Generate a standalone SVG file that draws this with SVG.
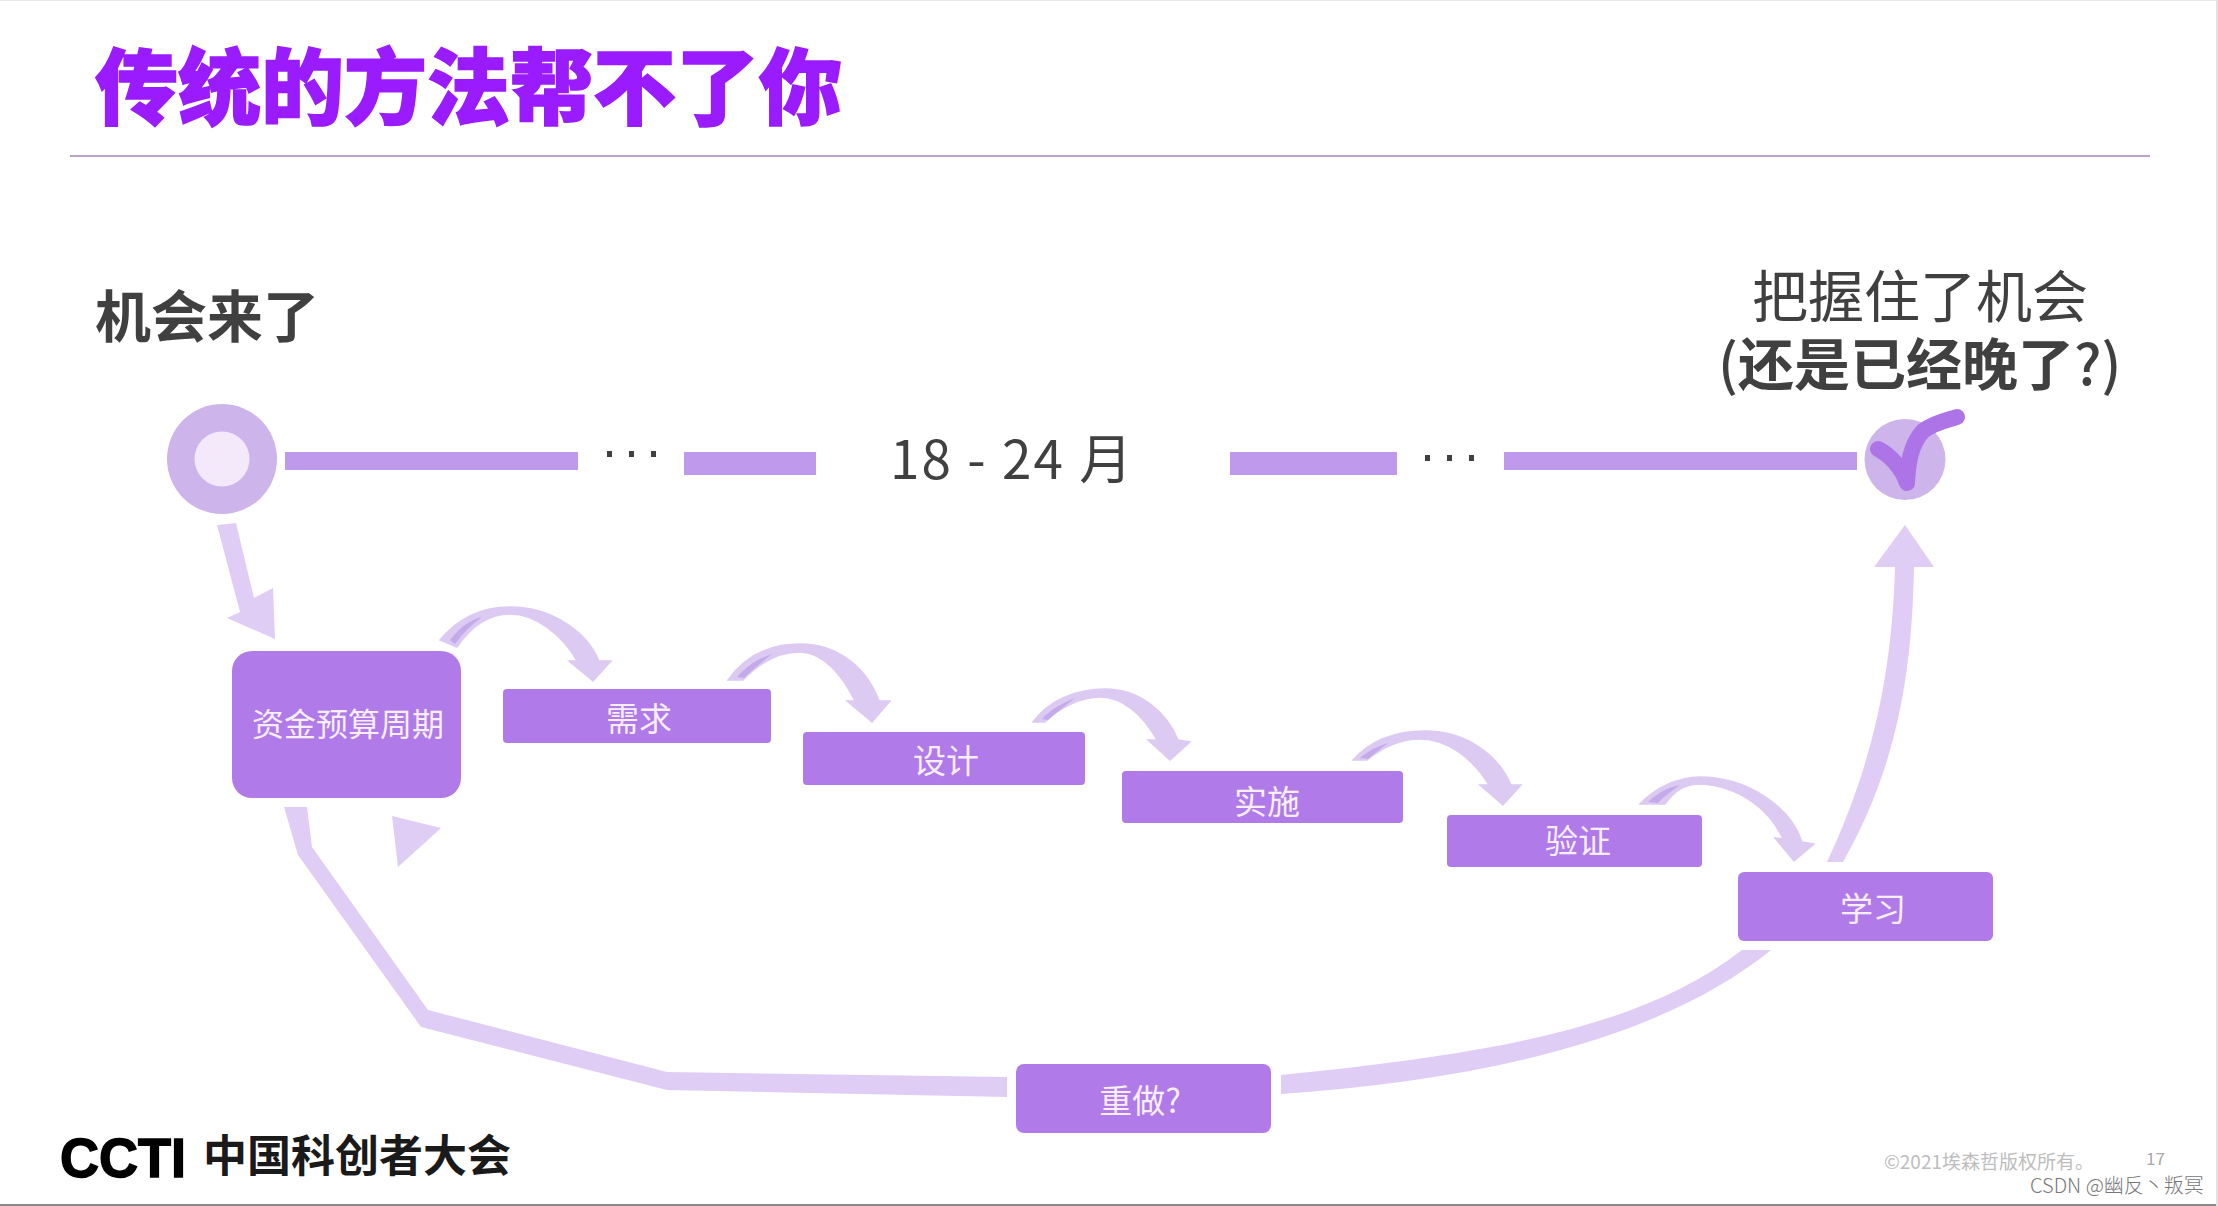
<svg xmlns="http://www.w3.org/2000/svg" width="2218" height="1206" viewBox="0 0 2218 1206">
<style>
text{font-family:"Noto Sans CJK SC","Noto Sans",sans-serif}
.box{fill:#b07ae8}
.lbl{fill:#f6eefd;font-size:33px;font-weight:400;text-anchor:middle}
.bar{fill:#bf9aec}
.soft{fill:#e0cdf5}
.arc{fill:#dccaf3;stroke:#dccaf3;stroke-width:1.5px}
.shade{fill:#c4aae8}
.dots{fill:#404040}
.dark{fill:#404040}
</style>
<rect width="2218" height="1206" fill="#fff"/>
<rect x="0" y="1204" width="2218" height="2" fill="#8a8a8a"/>
<rect x="0" y="0" width="2218" height="1" fill="#e6e6e6"/>
<rect x="2216" y="0" width="2" height="1206" fill="#e2e2e2"/>
<g id="title">
<text x="95" y="118" font-size="83" font-weight="900" fill="#9b1bff" stroke="#9b1bff" stroke-width="1.5">传统的方法帮不了你</text>
<rect x="70" y="155" width="2080" height="2" fill="#b9a3c9"/>
</g>
<g id="connectors">
<g id="timeline">
<rect class="bar" x="285" y="452" width="293" height="18"/>
<rect class="dots" x="607" y="451" width="5" height="6"/><rect class="dots" x="629" y="451" width="5" height="6"/><rect class="dots" x="651" y="451" width="5" height="6"/>
<rect class="bar" x="684" y="452" width="132" height="23"/>
<rect class="bar" x="1230" y="452" width="167" height="23"/>
<rect class="dots" x="1425" y="455" width="5" height="6"/><rect class="dots" x="1447" y="455" width="5" height="6"/><rect class="dots" x="1469" y="455" width="5" height="6"/>
<rect class="bar" x="1504" y="452" width="353" height="18"/>
</g>
<polygon class="soft" points="217,525 236,523 254,598 273,588 275,639 227,618 240,612"/>
<g id="arc1" transform="translate(430,590)"><path class="arc" d="M10,50C30,26 55,17 80,17C122,17 157,42 169,71L181,71L163,91L139,71L147,71C132,44 105,24 80,24C60,24 42,35 27,57Z"/><path class="shade" d="M20,50C30,37 40,30 52,27C42,34 33,43 25,54Z"/></g>
<g id="arc2" transform="translate(710,630)"><path class="arc" d="M18,50C35,26 60,14 90,14C128,14 157,38 169,71L180,71L162,92L137,71L145,71C132,44 112,22 90,22C70,22 50,32 33,50Z"/><path class="shade" d="M27,47C37,36 47,29 62,24C52,32 42,40 34,48Z"/></g>
<g id="arc3" transform="translate(1020,675)"><path class="arc" d="M13,47C28,26 55,14 85,14C118,14 146,35 158,65L170,67L150,85L128,65L137,65C123,40 103,22 80,22C62,22 40,32 25,47Z"/><path class="shade" d="M22,44C30,35 42,28 55,23C46,30 36,38 28,45Z"/></g>
<g id="arc4" transform="translate(1340,715)"><path class="arc" d="M13,45C30,26 55,16 85,16C127,16 158,40 171,70L181,70L163,90L140,70L149,70C133,44 108,24 80,24C60,24 43,32 27,45Z"/><path class="shade" d="M20,43C28,36 38,31 48,28C40,34 34,39 28,44Z"/></g>
<g id="arc5" transform="translate(1630,760)"><path class="arc" d="M10,44C25,28 48,17 70,17C115,17 160,45 172,82L184,84L164,101L145,78L153,79C140,50 110,26 70,24C55,24 45,30 35,44Z"/><path class="shade" d="M18,42C26,34 36,28 50,25C42,31 34,36 28,43Z"/></g>
<path class="soft" d="M1914,567C1912,680 1895,770 1843,862L1827,862C1870,770 1892,680 1895,567Z"/>
<polygon class="soft" points="1905,525 1874,567 1934,567"/>
<path class="soft" d="M1742,950C1640,1030 1480,1055 1281,1075L1281,1094C1480,1080 1660,1040 1771,950Z"/>
<polygon class="soft" points="284,807 307,807 312,847 428,1010 667,1072 1007,1077 1007,1097 667,1090 421,1027 298,855"/>
<polygon class="soft" points="392,816 441,828 398,867"/>
</g>
<g id="start-label"><text class="dark" x="95" y="337" font-size="56" font-weight="700">机会来了</text></g>
<g id="end-label">
<text class="dark" x="1752" y="317" font-size="56" font-weight="400">把握住了机会</text>
<text class="dark" x="1718" y="385" font-size="56"><tspan font-weight="500">(</tspan><tspan font-weight="700">还是已经晚了</tspan><tspan font-weight="500">?)</tspan></text>
</g>
<g id="duration"><text class="dark" x="890" y="479" font-size="53" font-weight="400" letter-spacing="2.200">18 - 24 月</text></g>
<g id="start-node"><circle cx="222" cy="459" r="55" fill="#cdb5ec"/><circle cx="222" cy="459" r="27.5" fill="#f3e9fb"/></g>
<g id="end-node"><circle cx="1905" cy="459.500" r="40.500" fill="#cdb5ec"/><path d="M1878,449C1890,455 1902,468 1907,483C1908,465 1910,445 1923,431C1935,422 1948,420 1957,417" fill="none" stroke="#ad74e8" stroke-width="16" stroke-linecap="round" stroke-linejoin="round"/></g>
<g id="budget"><rect class="box" x="232" y="651" width="229" height="147" rx="20"/><text class="lbl" x="348" y="736" style="font-size:32px">资金预算周期</text></g>
<g id="req"><rect class="box" x="503" y="689" width="268" height="54" rx="4"/><text class="lbl" x="639" y="731">需求</text></g>
<g id="design"><rect class="box" x="803" y="732" width="282" height="53" rx="4"/><text class="lbl" x="946" y="773">设计</text></g>
<g id="impl"><rect class="box" x="1122" y="771" width="281" height="52" rx="4"/><text class="lbl" x="1267" y="814">实施</text></g>
<g id="verify"><rect class="box" x="1447" y="815" width="255" height="52" rx="4"/><text class="lbl" x="1578" y="853">验证</text></g>
<g id="learn"><rect class="box" x="1738" y="872" width="255" height="69" rx="6"/><text class="lbl" x="1873" y="921">学习</text></g>
<g id="redo"><rect class="box" x="1016" y="1064" width="255" height="69" rx="8"/><text class="lbl" x="1140" y="1113">重做?</text></g>
<g id="footer">
<text x="60" y="1177" font-size="56" font-weight="700" style="font-family:'Liberation Sans',sans-serif" textLength="126" lengthAdjust="spacingAndGlyphs" fill="#000" stroke="#000" stroke-width="1.500">CCTI</text>
<text x="203" y="1172" font-size="44" font-weight="700" fill="#1a1a1a">中国科创者大会</text>
<text x="1884" y="1169" font-size="19" fill="#bdbdbd">©2021埃森哲版权所有。</text>
<text x="2146" y="1165" font-size="17" fill="#a8a8a8">17</text>
<text x="2030" y="1193" font-size="20" font-weight="300" fill="#777">CSDN @幽反丶叛冥</text>
</g>
</svg>
